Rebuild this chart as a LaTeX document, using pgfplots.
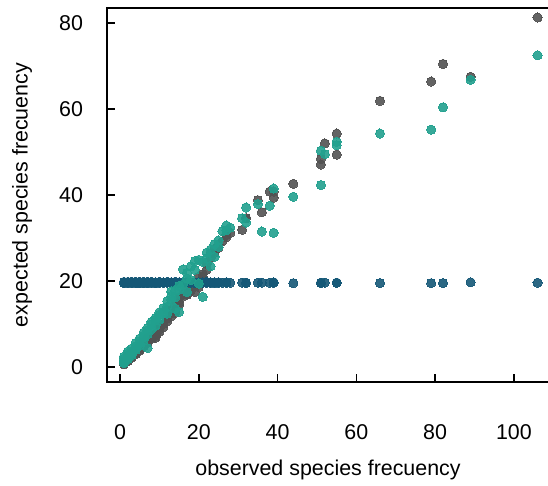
\documentclass[border=0pt]{standalone}
\usepackage{fontspec}
\setmainfont{Liberation Sans}
\usepackage{pgfplots}
\usepackage{pgfplotstable}
\pgfplotsset{compat=1.18}

\definecolor{cGray}{HTML}{525252}
\definecolor{cTeal}{HTML}{21A08E}
\definecolor{cBlue}{HTML}{155877}

% x = observed, g = model 1, t = model 2, b = null model
\pgfplotstableread{
x g t b
1 0.6 0.9 19.6
1 0.9 1.4 19.7
1 1.1 1.9 19.5
1 0.8 2.4 19.8
1 1.4 1.1 19.6
2 1.4 1.8 19.7
2 1.8 2.6 19.6
2 2.2 3.1 19.8
2 1.6 3.6 19.5
2 2.5 2.2 19.7
3 2.2 2.8 19.6
3 2.7 3.6 19.8
3 2.4 4.3 19.5
3 3.1 3.2 19.7
4 3.0 4.0 19.6
4 3.4 4.8 19.8
4 3.2 5.6 19.7
4 3.9 4.4 19.5
5 3.8 5.0 19.6
5 4.4 6.0 19.7
5 4.1 6.6 19.8
5 4.8 5.5 19.5
6 4.8 6.4 19.7
6 5.4 7.3 19.6
6 5.0 8.0 19.8
6 5.8 6.9 19.6
7 5.6 7.6 19.7
7 6.2 8.5 19.5
7 5.9 9.1 19.8
7 6.7 4.4 19.6
8 6.6 8.8 19.7
8 7.1 9.9 19.6
8 6.8 10.5 19.8
9 6.8 9.6 19.6
9 7.6 10.9 19.7
9 7.2 11.4 19.5
10 8.2 11.0 19.6
10 8.8 12.1 19.8
10 9.4 12.7 19.7
11 9.2 12.6 19.6
11 10.0 13.7 19.7
12 10.6 14.0 19.8
12 11.3 15.3 19.6
12 13.2 12.4 19.7
13 12.4 15.6 19.5
13 13.0 16.5 19.7
13 11.8 17.6 19.6
14 12.6 16.2 19.8
14 14.6 17.8 19.6
14 13.4 13.6 19.7
15 15.0 18.0 19.6
15 14.4 18.8 19.7
15 16.0 12.8 19.5
16 16.4 19.2 19.6
16 17.0 22.7 19.7
17 17.0 20.6 19.8
17 18.0 21.9 19.6
17 16.8 17.4 19.7
18 17.8 20.2 19.6
18 18.6 23.4 19.7
19 19.2 24.6 19.5
19 17.4 22.6 19.6
20 21.0 24.9 19.7
20 18.6 19.4 19.6
21 21.0 16.3 19.7
21 21.6 24.4 19.6
22 24.0 26.6 19.8
22 22.6 25.3 19.6
23 26.4 27.3 19.7
23 25.4 23.4 19.6
24 26.6 28.6 19.5
24 27.4 25.6 19.7
25 27.8 29.4 19.6
25 28.4 27.9 19.7
26 29.2 31.6 19.6
27 30.2 32.9 19.7
27 30.7 31.8 19.6
28 31.2 32.4 19.6
31 31.9 34.6 19.6
32 34.6 37.1 19.6
32 34.6 33.6 19.5
35 38.8 37.9 19.6
36 36.0 31.5 19.6
38 40.8 37.5 19.6
39 40.8 41.5 19.7
39 39.4 31.2 19.6
44 42.6 39.6 19.5
51 48.4 50.3 19.6
51 47.1 42.3 19.5
52 52.0 49.5 19.6
55 54.3 52.4 19.6
55 49.4 51.6 19.6
66 61.9 54.3 19.5
79 66.4 55.2 19.5
82 70.5 60.4 19.5
89 67.5 66.8 19.7
106 81.3 72.5 19.6
}\species

\begin{document}
\begin{tikzpicture}[font=\fontsize{10.7}{12.8}\selectfont]
\begin{axis}[
  name=ax,
  scale only axis,
  width=221pt, height=187pt,
  xmin=-3.3, xmax=108.9,
  ymin=-3.5, ymax=83.5,
  xtick={0,20,...,100},
  ytick={0,20,...,80},
  xtick pos=left, ytick pos=left,
  tick align=inside,
  major tick length=4pt,
  axis line style={line width=1pt},
  tick style={line width=0.8pt, black},
  /pgf/number format/assume math mode=true,
  yticklabel style={xshift=-8.5pt},
  xticklabel style={yshift=-18pt},
  xlabel={observed species frecuency},
  ylabel={expected species frecuency},
  every axis x label/.style={at={(axis description cs:0.5,0)}, anchor=center, yshift=-44pt},
  every axis y label/.style={at={(axis description cs:-0.192,0.5)}, anchor=center, rotate=90},
]
\addplot[only marks, mark=*, mark size=2.3pt, color=cGray, opacity=0.9,
  mark options={draw=cGray, fill=cGray, line width=0pt}] table[x=x, y=g] {\species};
\addplot[only marks, mark=*, mark size=2.3pt, color=cBlue, opacity=0.9,
  mark options={draw=cBlue, fill=cBlue, line width=0pt}] table[x=x, y=b] {\species};
\addplot[only marks, mark=*, mark size=2.3pt, color=cTeal, opacity=0.9,
  mark options={draw=cTeal, fill=cTeal, line width=0pt}] table[x=x, y=t] {\species};
\end{axis}
\pgfresetboundingbox
\path[use as bounding box] ([xshift=-53.5pt, yshift=-52pt]ax.south west) rectangle ([xshift=-0.5pt, yshift=4pt]ax.north east);
\end{tikzpicture}
\end{document}
